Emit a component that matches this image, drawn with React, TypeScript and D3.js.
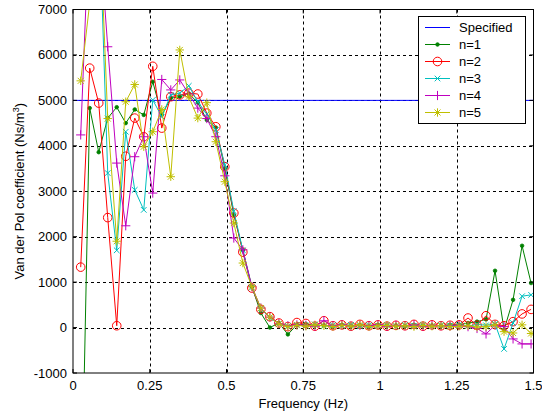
import React from "react";
import * as d3 from "d3";

const W = 542;
const H = 416;

// sampling grid of the spectrum (Hz)
const f0 = 0.0251;
const df = 0.02934;

const specifiedFreq = [0, 1.5];
const specifiedValue = [5000, 5000];

const n1 = [-4900, 4830, 3860, 4610, 4850, 4500, 4800, 4680, 5410, 4680, 5050, 5080, 5150, 4950, 4570, 4400, 3500, 2480, 1700, 900, 320, 0, 100, -150, 60, 80, 40, 50, 30, 60, 40, 50, 30, 60, 40, 50, 30, 60, 40, 50, 40, 60, 60, 100, 130, 180, 1250, -50, 610, 1800, 980];
const n2 = [1330, 5710, 4940, 2420, 40, 3770, 4610, 4200, 5750, 4390, 5080, 5120, 5160, 5140, 4720, 4420, 3540, 2520, 1660, 870, 400, 240, 100, 20, 110, 90, 30, 150, 40, 60, 30, 70, 40, 60, 30, 50, 40, 70, 30, 60, 40, 50, 60, 210, 50, 260, 70, 40, 130, 300, 400];
const n3 = [9000, 11000, 9400, 3400, 1700, 4310, 3030, 2590, 5010, 4640, 5120, 5160, 5320, 4970, 4700, 4350, 3580, 2560, 1700, 880, 420, 220, 80, 30, 60, 40, 70, 30, 50, 40, 60, 30, 50, 40, 60, 30, 50, 40, 60, 30, 50, 40, 60, 30, 70, 50, 80, -470, 100, 690, 720];
const n4 = [4240, 9200, 8900, 6180, 3620, 2240, 3760, 4200, 2960, 5460, 5230, 5450, 5140, 4830, 4600, 4200, 3340, 1970, 1710, 900, 430, 230, 90, 40, 60, 50, 30, 150, 40, 60, 30, 50, 40, 60, 30, 50, 40, 60, 30, 50, 40, 30, 50, 20, -20, -140, 50, 20, -250, -360, -360];
const n5 = [5430, 7140, 9490, 4600, 1900, 4970, 5350, 3980, 4310, 4800, 3320, 6110, 5080, 4610, 4950, 4090, 3210, 2300, 1420, 900, 430, 230, 80, 20, 50, 30, 60, 40, 20, 50, 30, 60, 20, 40, 50, 30, 40, 20, 50, 30, 40, 20, 30, 40, 10, 20, 60, -90, -120, 60, -130];

const xTicks = [0, 0.25, 0.5, 0.75, 1, 1.25, 1.5];
const xTickLabels = ["0", "0.25", "0.5", "0.75", "1", "1.25", "1.5"];
const yTicks = [-1000, 0, 1000, 2000, 3000, 4000, 5000, 6000, 7000];

const seriesNames = ["n=1", "n=2", "n=3", "n=4", "n=5"];
const seriesValues = [n1, n2, n3, n4, n5];
const seriesColors = ["#008000", "#ff0000", "#00bfbf", "#bf00bf", "#bfbf00"];
const seriesMarkers = ["dot", "circle", "x", "plus", "star"];

const margin = { left: 73, right: 9, top: 9.5, bottom: 43 };
const FONT = "Arial, 'Liberation Sans', sans-serif";

function Marker({ type, x, y, color }: { type: string; x: number; y: number; color: string }) {
  if (type === "dot") return <circle cx={x} cy={y} r={1.8} fill={color} stroke={color} strokeWidth={0.8} />;
  if (type === "circle") return <circle cx={x} cy={y} r={4.3} fill="none" stroke={color} strokeWidth={1} />;
  if (type === "x") {
    const s = 2.8;
    return <path d={`M${x - s},${y - s}L${x + s},${y + s}M${x - s},${y + s}L${x + s},${y - s}`} stroke={color} strokeWidth={1} />;
  }
  if (type === "plus") {
    const s = 4.6;
    return <path d={`M${x - s},${y}L${x + s},${y}M${x},${y - s}L${x},${y + s}`} stroke={color} strokeWidth={1} />;
  }
  const s = 4.2;
  const t = 3.0;
  return (
    <path
      d={`M${x - s},${y}L${x + s},${y}M${x},${y - s}L${x},${y + s}M${x - t},${y - t}L${x + t},${y + t}M${x - t},${y + t}L${x + t},${y - t}`}
      stroke={color}
      strokeWidth={1}
    />
  );
}

export default function App() {
  const x0 = margin.left;
  const x1 = W - margin.right + 0.5;
  const y0 = margin.top;
  const y1 = H - margin.bottom;
  const x = d3.scaleLinear().domain([0, 1.5]).range([x0, x1]);
  const y = d3.scaleLinear().domain([-1000, 7000]).range([y1, y0]);

  const freqs = n1.map((_, i) => f0 + i * df);
  const line = d3
    .line<number>()
    .x((_, i) => x(freqs[i]))
    .y((d) => y(d));

  const specLine = d3
    .line<number>()
    .x((_, i) => x(specifiedFreq[i]))
    .y((d) => y(d));

  const legX = 418.5;
  const legY = 16.5;
  const legW = 107;
  const legH = 107;

  return (
    <svg
      width={W}
      height={H}
      style={{ position: "absolute", left: 0, top: 0, background: "#fff" }}
      fontFamily={FONT}
    >
      <defs>
        <clipPath id="plotclip">
          <rect x={x0} y={y0} width={x1 - x0} height={y1 - y0} />
        </clipPath>
      </defs>
      <rect x={0} y={0} width={W} height={H} fill="#fff" />
      {/* grid */}
      {xTicks.slice(1, -1).map((t) => (
        <line key={"gx" + t} x1={Math.round(x(t)) + 0.5} x2={Math.round(x(t)) + 0.5} y1={y0} y2={y1} stroke="#000" strokeDasharray="3,3" strokeWidth={1} />
      ))}
      {yTicks.slice(1, -1).map((t) => (
        <line key={"gy" + t} x1={x0} x2={x1} y1={Math.round(y(t)) + 0.5} y2={Math.round(y(t)) + 0.5} stroke="#000" strokeDasharray="3,3" strokeWidth={1} />
      ))}
      {/* data */}
      <g clipPath="url(#plotclip)">
        <path d={specLine(specifiedValue) || ""} fill="none" stroke="#0000ff" strokeWidth={1} />
        {seriesValues.map((vals, si) => (
          <g key={si}>
            <path d={line(vals) || ""} fill="none" stroke={seriesColors[si]} strokeWidth={1} />
            {vals.map((v, i) => (
              <Marker key={i} type={seriesMarkers[si]} x={x(freqs[i])} y={y(v)} color={seriesColors[si]} />
            ))}
          </g>
        ))}
      </g>
      {/* axes box */}
      <rect x={x0} y={y0} width={x1 - x0} height={y1 - y0} fill="none" stroke="#000" strokeWidth={1} />
      {/* ticks */}
      {xTicks.map((t) => (
        <g key={"tx" + t}>
          <line x1={x(t)} x2={x(t)} y1={y1} y2={y1 - 4} stroke="#000" />
          <line x1={x(t)} x2={x(t)} y1={y0} y2={y0 + 4} stroke="#000" />
        </g>
      ))}
      {yTicks.map((t) => (
        <g key={"ty" + t}>
          <line x1={x0} x2={x0 + 4} y1={y(t)} y2={y(t)} stroke="#000" />
          <line x1={x1} x2={x1 - 4} y1={y(t)} y2={y(t)} stroke="#000" />
        </g>
      ))}
      {/* tick labels */}
      {xTicks.map((t, i) => (
        <text key={"lx" + t} x={x(t)} y={y1 + 17} fontSize={13} textAnchor="middle" fill="#000">
          {xTickLabels[i]}
        </text>
      ))}
      {yTicks.map((t) => (
        <text key={"ly" + t} x={x0 - 6} y={y(t) + 4.5} fontSize={13} textAnchor="end" fill="#000">
          {t}
        </text>
      ))}
      {/* axis labels */}
      <text x={(x0 + x1) / 2} y={408} fontSize={13} textAnchor="middle" fill="#000">
        Frequency (Hz)
      </text>
      <text
        transform={`translate(24,${(y0 + y1) / 2}) rotate(-90)`}
        fontSize={13}
        textAnchor="middle"
        fill="#000"
      >
        Van der Pol coefficient (Ns/m<tspan fontSize={9} dy={-5}>3</tspan>
        <tspan dy={5}>)</tspan>
      </text>
      {/* legend */}
      <rect x={legX} y={legY} width={legW} height={legH} fill="#fff" stroke="#000" strokeWidth={1} />
      <line x1={425} x2={450} y1={27.5} y2={27.5} stroke="#0000ff" strokeWidth={1} />
      <text x={459} y={32} fontSize={13} fill="#000">
        Specified
      </text>
      {seriesNames.map((name, i) => {
        const ly = 44.5 + i * 17;
        return (
          <g key={name}>
            <line x1={425} x2={450} y1={ly} y2={ly} stroke={seriesColors[i]} strokeWidth={1} />
            <Marker type={seriesMarkers[i]} x={437.5} y={ly} color={seriesColors[i]} />
            <text x={459} y={ly + 4.5} fontSize={13} fill="#000">
              {name}
            </text>
          </g>
        );
      })}
    </svg>
  );
}
